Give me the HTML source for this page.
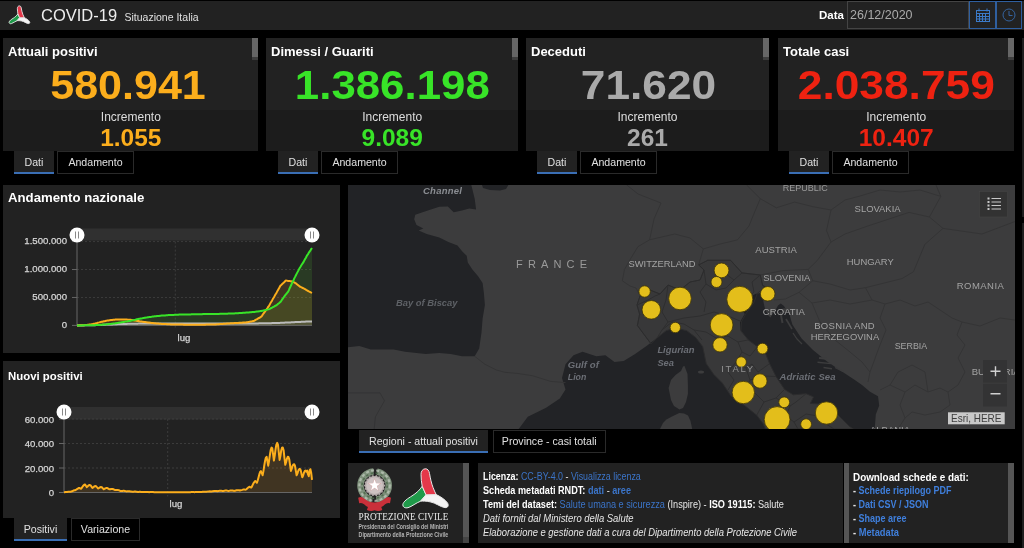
<!DOCTYPE html>
<html lang="it"><head><meta charset="utf-8"><title>COVID-19 Situazione Italia</title>
<style>
html,body{margin:0;padding:0;background:#000;}
body{width:1024px;height:548px;position:relative;overflow:hidden;font-family:"Liberation Sans",sans-serif;color:#e6e6e6;}
div{box-sizing:border-box}
.abs{position:absolute}
#hdr{position:absolute;left:0;top:1px;width:1024px;height:29px;background:#222}
.card{position:absolute;top:38px;height:113px;overflow:hidden}
.ctop{position:absolute;left:0;top:0;right:0;height:72px;background:#222}
.cbot{position:absolute;left:0;top:72px;right:0;height:41px;background:#1c1c1c}
.sbt{position:absolute;top:19px;width:6px;height:3px;background:#3e3e3e}
.sbh{position:absolute;top:0;width:6px;height:19px;background:#666}
.ctitle{position:absolute;left:5px;top:5px;font-weight:bold;font-size:13px;line-height:18px;color:#fff;white-space:nowrap}
.num{position:absolute;top:23px;width:300px;text-align:center;font-weight:bold;font-size:41.5px;line-height:48px;white-space:nowrap}
.incl{position:absolute;top:72px;width:300px;text-align:center;font-size:12px;line-height:14px;color:#ddd}
.inc{position:absolute;top:86px;width:300px;text-align:center;font-weight:bold;font-size:24.5px;line-height:28px}
.tab{position:absolute;height:23px;font-size:10.6px;line-height:21px;text-align:center;color:#e0e0e0;border:1px solid #2a2a2a;background:#000;white-space:nowrap}
.tab.act{background:#222;border:0;border-bottom:2px solid #3a6eb4;line-height:22px}
.panel{position:absolute;background:#222}
.ptitle{position:absolute;left:8px;font-weight:bold;color:#fff;white-space:nowrap}
svg text.ax{font-family:"Liberation Sans",sans-serif;font-size:9.6px;fill:#d6d6d6;stroke:#d6d6d6;stroke-width:0.25px}
a{color:#3b74c8;text-decoration:none}
.info a b,.info[style*=bold] a{color:#3f7fdc}
.info{position:absolute;font-size:10px;line-height:14px;color:#e6e6e6;white-space:nowrap}
.info b{color:#fff}
.info a b{color:inherit}
.ln{transform-origin:0 0;height:14px;white-space:nowrap}
</style></head><body>
<div id="hdr"></div>
<div class="abs" style="left:41px;top:5px;font-size:16.5px;line-height:20px;color:#eee;white-space:nowrap">COVID-19</div>
<div class="abs" style="left:124.5px;top:10px;font-size:10.5px;line-height:14px;color:#e0e0e0;white-space:nowrap">Situazione Italia</div>
<div class="abs" style="left:790px;top:8px;width:54px;text-align:right;font-size:11.5px;line-height:14px;font-weight:bold;color:#fff">Data</div>
<div class="abs" style="left:847px;top:1px;width:122px;height:28px;border:1px solid #444;background:#222;font-size:12.5px;line-height:26px;color:#aaa;padding-left:2px">26/12/2020</div>
<div class="abs" style="left:969px;top:1px;width:27px;height:28px;border:1px solid #2f5f9f;background:#222"></div>
<div class="abs" style="left:996px;top:1px;width:26px;height:28px;border:1px solid #2f5f9f;background:#222"></div>
<svg class="abs" style="left:0;top:0" width="1024" height="30" viewBox="0 0 1024 30">
<!-- calendar icon -->
<g fill="none" stroke="#3b7ac9" stroke-width="1">
<rect x="976.5" y="10.5" width="13" height="11"/>
<path d="M976.5,13.5h13M979.5,13.5v8M982.5,13.5v8M985.5,13.5v8M976.5,16.5h13M976.5,19h13M979,8.5v3M987,8.5v3"/>
<circle cx="1009" cy="15" r="6" stroke="#34639f"/>
<path d="M1009,11v4.500h3.500" stroke="#34639f"/>
</g>
<g transform="translate(8.7,5.7) scale(0.456)" stroke-linejoin="round"><path d="M20.2,17.8 L24,26.4 L18.6,32.8 C14,34.5 10,38 6,39.3 C3,40.2 0.6,38.5 0.8,36.3 C1.2,33 6,30 10,27.5 C14,25 18,21.5 20.2,17.8 Z" fill="#1f9a4a" stroke="#e8e8e8" stroke-width="1.97"/><path d="M24,26.4 L34.2,26.2 C38,28 43,31 45.5,34.5 C47,37 46,39.500 43,39.2 C38,38.500 34,34.500 28,33.4 C24,32.7 21,32.6 18.6,32.8 Z" fill="#f4f4f4" stroke="#e8e8e8" stroke-width="1.97"/><path d="M23.2,0.4 C25.5,0.2 27,2 27.5,5 C28.3,10 29.5,15 31,19 C32,21.5 33,24 34.2,26.2 L24,26.4 L20.2,17.8 C19.5,14 19,10 19,6 C19,3 20.5,0.6 23.2,0.4 Z" fill="#e5384a" stroke="#e8e8e8" stroke-width="1.97"/></g>

</svg>
<div class="card" style="left:3px;width:255px">
<div class="ctop"></div><div class="cbot"></div>
<div class="sbt" style="left:249px"></div><div class="sbh" style="left:249px"></div>
<div class="ctitle">Attuali positivi</div>
<div class="num" style="color:#fcae1c;left:-25.400000000000006px"><span style="display:inline-block;transform:scaleX(1.037)">580.941</span></div>
<div class="incl" style="left:-22.19999999999999px">Incremento</div>
<div class="inc" style="color:#fcae1c;left:-22.19999999999999px">1.055</div>
</div>
<div class="tab act" style="left:14px;top:151px;width:40px">Dati</div>
<div class="tab" style="left:57px;top:151px;width:77px">Andamento</div>
<div class="card" style="left:266px;width:252px">
<div class="ctop"></div><div class="cbot"></div>
<div class="sbt" style="left:246px"></div><div class="sbh" style="left:246px"></div>
<div class="ctitle">Dimessi / Guariti</div>
<div class="num" style="color:#38e428;left:-23.5px"><span style="display:inline-block;transform:scaleX(1.056)">1.386.198</span></div>
<div class="incl" style="left:-23.80000000000001px">Incremento</div>
<div class="inc" style="color:#38e428;left:-23.80000000000001px">9.089</div>
</div>
<div class="tab act" style="left:278px;top:151px;width:40px">Dati</div>
<div class="tab" style="left:321px;top:151px;width:77px">Andamento</div>
<div class="card" style="left:526px;width:243px">
<div class="ctop"></div><div class="cbot"></div>
<div class="sbt" style="left:237px"></div><div class="sbh" style="left:237px"></div>
<div class="ctitle">Deceduti</div>
<div class="num" style="color:#aaaaaa;left:-28px"><span style="display:inline-block;transform:scaleX(1.066)">71.620</span></div>
<div class="incl" style="left:-28.5px">Incremento</div>
<div class="inc" style="color:#aaaaaa;left:-28.5px">261</div>
</div>
<div class="tab act" style="left:537px;top:151px;width:40px">Dati</div>
<div class="tab" style="left:580px;top:151px;width:77px">Andamento</div>
<div class="card" style="left:778px;width:236px">
<div class="ctop"></div><div class="cbot"></div>
<div class="sbt" style="left:230px"></div><div class="sbh" style="left:230px"></div>
<div class="ctitle">Totale casi</div>
<div class="num" style="color:#ee2211;left:-31.299999999999955px"><span style="display:inline-block;transform:scaleX(1.067)">2.038.759</span></div>
<div class="incl" style="left:-31.799999999999955px">Incremento</div>
<div class="inc" style="color:#ee2211;left:-31.799999999999955px">10.407</div>
</div>
<div class="tab act" style="left:789px;top:151px;width:40px">Dati</div>
<div class="tab" style="left:832px;top:151px;width:77px">Andamento</div>

<div class="panel" style="left:3px;top:185px;width:337px;height:168px"></div>
<div class="ptitle" style="top:189px;font-size:13.2px;line-height:18px">Andamento nazionale</div>
<div class="panel" style="left:3px;top:361px;width:337px;height:157px"></div>
<div class="ptitle" style="top:368px;font-size:11.4px;line-height:16px">Nuovi positivi</div>
<svg class="abs" style="left:0;top:0" width="345" height="548" viewBox="0 0 345 548">
<rect x="77" y="228.5" width="235" height="12" fill="#303030"/>
<line x1="77" y1="297.46666666666664" x2="312" y2="297.46666666666664" stroke="#3c3c3c" stroke-width="1" stroke-dasharray="2,2"/>
<line x1="77" y1="269.5333333333333" x2="312" y2="269.5333333333333" stroke="#3c3c3c" stroke-width="1" stroke-dasharray="2,2"/>
<line x1="77" y1="241.6" x2="312" y2="241.6" stroke="#3c3c3c" stroke-width="1" stroke-dasharray="2,2"/>
<line x1="175.3" y1="241.6" x2="175.3" y2="329.4" stroke="#3c3c3c" stroke-width="1" stroke-dasharray="2,2"/>
<path d="M77.0,325.4 L77.8,325.4 L78.5,325.4 L79.3,325.4 L80.1,325.4 L80.8,325.4 L81.6,325.4 L82.4,325.4 L83.1,325.3 L83.9,325.3 L84.7,325.3 L85.4,325.3 L86.2,325.3 L87.0,325.3 L87.8,325.3 L88.5,325.3 L89.3,325.3 L90.1,325.3 L90.8,325.3 L91.6,325.3 L92.4,325.3 L93.1,325.2 L93.9,325.2 L94.7,325.2 L95.4,325.1 L96.2,325.1 L97.0,325.0 L97.7,325.0 L98.5,325.0 L99.3,324.9 L100.0,324.9 L100.8,324.8 L101.6,324.7 L102.3,324.7 L103.1,324.6 L103.9,324.6 L104.6,324.5 L105.4,324.4 L106.2,324.4 L107.0,324.3 L107.7,324.2 L108.5,324.1 L109.3,324.0 L110.0,324.0 L110.8,323.9 L111.6,323.8 L112.3,323.7 L113.1,323.6 L113.9,323.5 L114.6,323.4 L115.4,323.3 L116.2,323.2 L116.9,323.1 L117.7,322.9 L118.5,322.8 L119.2,322.7 L120.0,322.5 L120.8,322.4 L121.5,322.3 L122.3,322.2 L123.1,322.0 L123.8,321.9 L124.6,321.8 L125.4,321.6 L126.2,321.5 L126.9,321.4 L127.7,321.3 L128.5,321.1 L129.2,321.0 L130.0,320.9 L130.8,320.8 L131.5,320.6 L132.3,320.4 L133.1,320.2 L133.8,320.0 L134.6,319.9 L135.4,319.7 L136.1,319.5 L136.9,319.3 L137.7,319.1 L138.4,319.0 L139.2,318.8 L140.0,318.7 L140.7,318.5 L141.5,318.4 L142.3,318.3 L143.0,318.1 L143.8,318.0 L144.6,317.8 L145.3,317.7 L146.1,317.6 L146.9,317.4 L147.7,317.3 L148.4,317.2 L149.2,317.1 L150.0,317.0 L150.7,316.9 L151.5,316.8 L152.3,316.6 L153.0,316.5 L153.8,316.4 L154.6,316.3 L155.3,316.3 L156.1,316.2 L156.9,316.1 L157.6,316.0 L158.4,315.9 L159.2,315.9 L159.9,315.8 L160.7,315.7 L161.5,315.6 L162.2,315.6 L163.0,315.5 L163.8,315.5 L164.5,315.4 L165.3,315.4 L166.1,315.3 L166.9,315.3 L167.6,315.2 L168.4,315.1 L169.2,315.1 L169.9,315.0 L170.7,315.0 L171.5,315.0 L172.2,314.9 L173.0,314.9 L173.8,314.9 L174.5,314.8 L175.3,314.8 L176.1,314.7 L176.8,314.7 L177.6,314.7 L178.4,314.7 L179.1,314.6 L179.9,314.6 L180.7,314.6 L181.4,314.6 L182.2,314.5 L183.0,314.5 L183.7,314.5 L184.5,314.5 L185.3,314.5 L186.1,314.5 L186.8,314.4 L187.6,314.4 L188.4,314.4 L189.1,314.4 L189.9,314.4 L190.7,314.4 L191.4,314.3 L192.2,314.3 L193.0,314.3 L193.7,314.3 L194.5,314.3 L195.3,314.3 L196.0,314.3 L196.8,314.2 L197.6,314.2 L198.3,314.2 L199.1,314.2 L199.9,314.2 L200.6,314.2 L201.4,314.2 L202.2,314.2 L202.9,314.1 L203.7,314.1 L204.5,314.1 L205.3,314.1 L206.0,314.1 L206.8,314.1 L207.6,314.1 L208.3,314.1 L209.1,314.0 L209.9,314.0 L210.6,314.0 L211.4,314.0 L212.2,314.0 L212.9,314.0 L213.7,314.0 L214.5,313.9 L215.2,313.9 L216.0,313.9 L216.8,313.9 L217.5,313.9 L218.3,313.9 L219.1,313.9 L219.8,313.8 L220.6,313.8 L221.4,313.8 L222.1,313.8 L222.9,313.8 L223.7,313.8 L224.5,313.7 L225.2,313.7 L226.0,313.7 L226.8,313.7 L227.5,313.7 L228.3,313.6 L229.1,313.6 L229.8,313.6 L230.6,313.6 L231.4,313.5 L232.1,313.5 L232.9,313.4 L233.7,313.4 L234.4,313.4 L235.2,313.3 L236.0,313.3 L236.7,313.3 L237.5,313.2 L238.3,313.2 L239.0,313.1 L239.8,313.1 L240.6,313.0 L241.3,313.0 L242.1,312.9 L242.9,312.8 L243.7,312.8 L244.4,312.7 L245.2,312.7 L246.0,312.6 L246.7,312.6 L247.5,312.5 L248.3,312.4 L249.0,312.4 L249.8,312.3 L250.6,312.3 L251.3,312.2 L252.1,312.1 L252.9,312.1 L253.6,312.0 L254.4,311.9 L255.2,311.8 L255.9,311.7 L256.7,311.6 L257.5,311.5 L258.2,311.4 L259.0,311.3 L259.8,311.2 L260.5,311.1 L261.3,311.0 L262.1,310.8 L262.8,310.7 L263.6,310.5 L264.4,310.3 L265.2,310.1 L265.9,309.9 L266.7,309.8 L267.5,309.6 L268.2,309.4 L269.0,309.2 L269.8,308.8 L270.5,308.4 L271.3,308.0 L272.1,307.6 L272.8,307.2 L273.6,306.8 L274.4,306.4 L275.1,305.9 L275.9,305.5 L276.7,305.1 L277.4,304.5 L278.2,303.8 L279.0,303.2 L279.7,302.5 L280.5,301.9 L281.3,300.8 L282.0,299.7 L282.8,298.6 L283.6,297.5 L284.4,296.3 L285.1,295.4 L285.9,294.4 L286.7,293.5 L287.4,292.5 L288.2,291.6 L289.0,289.9 L289.7,288.2 L290.5,286.5 L291.3,284.8 L292.0,283.1 L292.8,281.5 L293.6,280.0 L294.3,278.4 L295.1,276.9 L295.9,275.3 L296.6,273.9 L297.4,272.4 L298.2,270.9 L298.9,269.4 L299.7,268.0 L300.5,266.7 L301.2,265.5 L302.0,264.3 L302.8,263.1 L303.6,261.9 L304.3,260.5 L305.1,259.1 L305.9,257.7 L306.6,256.3 L307.4,254.9 L308.2,253.8 L308.9,252.6 L309.7,251.4 L310.5,250.3 L311.2,249.1 L312.0,248.0 L312.0,325.4 L77.0,325.4 Z" fill="#55cc33" fill-opacity="0.14"/>
<path d="M77.0,325.4 L77.8,325.4 L78.5,325.4 L79.3,325.3 L80.1,325.3 L80.8,325.3 L81.6,325.3 L82.4,325.3 L83.1,325.3 L83.9,325.2 L84.7,325.2 L85.4,325.1 L86.2,325.0 L87.0,324.9 L87.8,324.8 L88.5,324.7 L89.3,324.6 L90.1,324.5 L90.8,324.4 L91.6,324.3 L92.4,324.2 L93.1,324.0 L93.9,323.8 L94.7,323.6 L95.4,323.4 L96.2,323.2 L97.0,323.0 L97.7,322.8 L98.5,322.6 L99.3,322.4 L100.0,322.2 L100.8,322.0 L101.6,321.8 L102.3,321.7 L103.1,321.5 L103.9,321.3 L104.6,321.2 L105.4,321.0 L106.2,320.8 L107.0,320.6 L107.7,320.5 L108.5,320.4 L109.3,320.3 L110.0,320.2 L110.8,320.1 L111.6,320.0 L112.3,319.9 L113.1,319.8 L113.9,319.8 L114.6,319.7 L115.4,319.6 L116.2,319.5 L116.9,319.5 L117.7,319.4 L118.5,319.4 L119.2,319.4 L120.0,319.4 L120.8,319.4 L121.5,319.4 L122.3,319.4 L123.1,319.4 L123.8,319.5 L124.6,319.5 L125.4,319.6 L126.2,319.6 L126.9,319.6 L127.7,319.7 L128.5,319.7 L129.2,319.7 L130.0,319.8 L130.8,319.8 L131.5,319.9 L132.3,320.1 L133.1,320.2 L133.8,320.3 L134.6,320.5 L135.4,320.6 L136.1,320.7 L136.9,320.9 L137.7,321.0 L138.4,321.1 L139.2,321.2 L140.0,321.4 L140.7,321.5 L141.5,321.6 L142.3,321.7 L143.0,321.8 L143.8,321.9 L144.6,322.0 L145.3,322.1 L146.1,322.2 L146.9,322.3 L147.7,322.4 L148.4,322.5 L149.2,322.6 L150.0,322.7 L150.7,322.8 L151.5,322.9 L152.3,323.0 L153.0,323.1 L153.8,323.2 L154.6,323.3 L155.3,323.3 L156.1,323.4 L156.9,323.5 L157.6,323.5 L158.4,323.6 L159.2,323.7 L159.9,323.7 L160.7,323.8 L161.5,323.9 L162.2,323.9 L163.0,324.0 L163.8,324.0 L164.5,324.0 L165.3,324.1 L166.1,324.1 L166.9,324.2 L167.6,324.2 L168.4,324.3 L169.2,324.3 L169.9,324.3 L170.7,324.4 L171.5,324.4 L172.2,324.4 L173.0,324.4 L173.8,324.5 L174.5,324.5 L175.3,324.5 L176.1,324.5 L176.8,324.6 L177.6,324.6 L178.4,324.6 L179.1,324.6 L179.9,324.6 L180.7,324.6 L181.4,324.6 L182.2,324.6 L183.0,324.6 L183.7,324.7 L184.5,324.7 L185.3,324.7 L186.1,324.7 L186.8,324.7 L187.6,324.7 L188.4,324.7 L189.1,324.7 L189.9,324.7 L190.7,324.7 L191.4,324.7 L192.2,324.7 L193.0,324.7 L193.7,324.7 L194.5,324.7 L195.3,324.7 L196.0,324.7 L196.8,324.7 L197.6,324.7 L198.3,324.7 L199.1,324.7 L199.9,324.7 L200.6,324.7 L201.4,324.7 L202.2,324.7 L202.9,324.7 L203.7,324.7 L204.5,324.7 L205.3,324.7 L206.0,324.6 L206.8,324.6 L207.6,324.6 L208.3,324.6 L209.1,324.6 L209.9,324.6 L210.6,324.5 L211.4,324.5 L212.2,324.5 L212.9,324.5 L213.7,324.5 L214.5,324.4 L215.2,324.4 L216.0,324.4 L216.8,324.3 L217.5,324.3 L218.3,324.2 L219.1,324.2 L219.8,324.1 L220.6,324.1 L221.4,324.0 L222.1,324.0 L222.9,323.9 L223.7,323.8 L224.5,323.8 L225.2,323.7 L226.0,323.7 L226.8,323.6 L227.5,323.6 L228.3,323.5 L229.1,323.5 L229.8,323.4 L230.6,323.3 L231.4,323.3 L232.1,323.3 L232.9,323.2 L233.7,323.2 L234.4,323.1 L235.2,323.1 L236.0,323.0 L236.7,323.0 L237.5,322.9 L238.3,322.9 L239.0,322.8 L239.8,322.8 L240.6,322.8 L241.3,322.7 L242.1,322.7 L242.9,322.6 L243.7,322.6 L244.4,322.5 L245.2,322.5 L246.0,322.5 L246.7,322.3 L247.5,322.2 L248.3,322.0 L249.0,321.9 L249.8,321.7 L250.6,321.6 L251.3,321.4 L252.1,321.3 L252.9,321.1 L253.6,321.0 L254.4,320.6 L255.2,320.1 L255.9,319.7 L256.7,319.3 L257.5,318.8 L258.2,318.4 L259.0,318.0 L259.8,317.6 L260.5,317.1 L261.3,316.7 L262.1,315.6 L262.8,314.5 L263.6,313.4 L264.4,312.3 L265.2,311.2 L265.9,310.1 L266.7,309.1 L267.5,308.0 L268.2,306.9 L269.0,305.8 L269.8,304.4 L270.5,303.1 L271.3,301.8 L272.1,300.4 L272.8,299.1 L273.6,297.8 L274.4,296.4 L275.1,295.1 L275.9,293.8 L276.7,292.4 L277.4,291.1 L278.2,289.7 L279.0,288.3 L279.7,287.0 L280.5,285.6 L281.3,284.9 L282.0,284.2 L282.8,283.4 L283.6,282.7 L284.4,282.0 L285.1,281.2 L285.9,280.4 L286.7,280.6 L287.4,280.8 L288.2,281.0 L289.0,281.1 L289.7,281.1 L290.5,281.2 L291.3,281.3 L292.0,281.4 L292.8,281.7 L293.6,282.1 L294.3,282.5 L295.1,282.9 L295.9,283.3 L296.6,283.9 L297.4,284.6 L298.2,285.2 L298.9,285.8 L299.7,286.5 L300.5,286.9 L301.2,287.2 L302.0,287.6 L302.8,288.0 L303.6,288.3 L304.3,288.8 L305.1,289.2 L305.9,289.7 L306.6,290.2 L307.4,290.6 L308.2,291.0 L308.9,291.4 L309.7,291.8 L310.5,292.2 L311.2,292.6 L312.0,292.9 L312.0,325.4 L77.0,325.4 Z" fill="#f5a623" fill-opacity="0.14"/>
<path d="M77.0,325.4 L77.8,325.4 L78.5,325.4 L79.3,325.4 L80.1,325.4 L80.8,325.4 L81.6,325.4 L82.4,325.4 L83.1,325.4 L83.9,325.4 L84.7,325.3 L85.4,325.3 L86.2,325.3 L87.0,325.3 L87.8,325.3 L88.5,325.3 L89.3,325.3 L90.1,325.3 L90.8,325.3 L91.6,325.3 L92.4,325.3 L93.1,325.3 L93.9,325.2 L94.7,325.2 L95.4,325.2 L96.2,325.1 L97.0,325.1 L97.7,325.1 L98.5,325.0 L99.3,325.0 L100.0,325.0 L100.8,324.9 L101.6,324.9 L102.3,324.8 L103.1,324.8 L103.9,324.8 L104.6,324.7 L105.4,324.7 L106.2,324.6 L107.0,324.6 L107.7,324.5 L108.5,324.5 L109.3,324.5 L110.0,324.4 L110.8,324.4 L111.6,324.4 L112.3,324.4 L113.1,324.3 L113.9,324.3 L114.6,324.3 L115.4,324.2 L116.2,324.2 L116.9,324.2 L117.7,324.1 L118.5,324.1 L119.2,324.1 L120.0,324.1 L120.8,324.0 L121.5,324.0 L122.3,324.0 L123.1,323.9 L123.8,323.9 L124.6,323.9 L125.4,323.9 L126.2,323.9 L126.9,323.9 L127.7,323.8 L128.5,323.8 L129.2,323.8 L130.0,323.8 L130.8,323.8 L131.5,323.8 L132.3,323.7 L133.1,323.7 L133.8,323.7 L134.6,323.7 L135.4,323.7 L136.1,323.7 L136.9,323.7 L137.7,323.7 L138.4,323.6 L139.2,323.6 L140.0,323.6 L140.7,323.6 L141.5,323.6 L142.3,323.6 L143.0,323.6 L143.8,323.6 L144.6,323.6 L145.3,323.6 L146.1,323.6 L146.9,323.6 L147.7,323.6 L148.4,323.6 L149.2,323.6 L150.0,323.5 L150.7,323.5 L151.5,323.5 L152.3,323.5 L153.0,323.5 L153.8,323.5 L154.6,323.5 L155.3,323.5 L156.1,323.5 L156.9,323.5 L157.6,323.5 L158.4,323.5 L159.2,323.5 L159.9,323.5 L160.7,323.5 L161.5,323.5 L162.2,323.5 L163.0,323.5 L163.8,323.5 L164.5,323.5 L165.3,323.5 L166.1,323.5 L166.9,323.5 L167.6,323.5 L168.4,323.5 L169.2,323.5 L169.9,323.5 L170.7,323.5 L171.5,323.5 L172.2,323.5 L173.0,323.5 L173.8,323.5 L174.5,323.5 L175.3,323.5 L176.1,323.5 L176.8,323.5 L177.6,323.5 L178.4,323.5 L179.1,323.5 L179.9,323.5 L180.7,323.5 L181.4,323.5 L182.2,323.4 L183.0,323.4 L183.7,323.4 L184.5,323.4 L185.3,323.4 L186.1,323.4 L186.8,323.4 L187.6,323.4 L188.4,323.4 L189.1,323.4 L189.9,323.4 L190.7,323.4 L191.4,323.4 L192.2,323.4 L193.0,323.4 L193.7,323.4 L194.5,323.4 L195.3,323.4 L196.0,323.4 L196.8,323.4 L197.6,323.4 L198.3,323.4 L199.1,323.4 L199.9,323.4 L200.6,323.4 L201.4,323.4 L202.2,323.4 L202.9,323.4 L203.7,323.4 L204.5,323.4 L205.3,323.4 L206.0,323.4 L206.8,323.4 L207.6,323.4 L208.3,323.4 L209.1,323.4 L209.9,323.4 L210.6,323.4 L211.4,323.4 L212.2,323.4 L212.9,323.4 L213.7,323.4 L214.5,323.4 L215.2,323.4 L216.0,323.4 L216.8,323.4 L217.5,323.4 L218.3,323.4 L219.1,323.4 L219.8,323.4 L220.6,323.4 L221.4,323.4 L222.1,323.4 L222.9,323.4 L223.7,323.4 L224.5,323.4 L225.2,323.4 L226.0,323.4 L226.8,323.4 L227.5,323.4 L228.3,323.4 L229.1,323.4 L229.8,323.4 L230.6,323.4 L231.4,323.4 L232.1,323.4 L232.9,323.4 L233.7,323.4 L234.4,323.4 L235.2,323.4 L236.0,323.4 L236.7,323.4 L237.5,323.4 L238.3,323.4 L239.0,323.4 L239.8,323.4 L240.6,323.4 L241.3,323.4 L242.1,323.4 L242.9,323.4 L243.7,323.4 L244.4,323.4 L245.2,323.4 L246.0,323.4 L246.7,323.4 L247.5,323.4 L248.3,323.4 L249.0,323.4 L249.8,323.4 L250.6,323.4 L251.3,323.4 L252.1,323.4 L252.9,323.4 L253.6,323.4 L254.4,323.4 L255.2,323.4 L255.9,323.4 L256.7,323.4 L257.5,323.4 L258.2,323.4 L259.0,323.3 L259.8,323.3 L260.5,323.3 L261.3,323.3 L262.1,323.3 L262.8,323.3 L263.6,323.3 L264.4,323.3 L265.2,323.3 L265.9,323.3 L266.7,323.3 L267.5,323.3 L268.2,323.3 L269.0,323.2 L269.8,323.2 L270.5,323.2 L271.3,323.2 L272.1,323.1 L272.8,323.1 L273.6,323.1 L274.4,323.1 L275.1,323.0 L275.9,323.0 L276.7,323.0 L277.4,323.0 L278.2,322.9 L279.0,322.9 L279.7,322.9 L280.5,322.8 L281.3,322.8 L282.0,322.8 L282.8,322.7 L283.6,322.7 L284.4,322.7 L285.1,322.6 L285.9,322.6 L286.7,322.6 L287.4,322.5 L288.2,322.5 L289.0,322.5 L289.7,322.4 L290.5,322.4 L291.3,322.3 L292.0,322.3 L292.8,322.3 L293.6,322.2 L294.3,322.2 L295.1,322.1 L295.9,322.1 L296.6,322.1 L297.4,322.0 L298.2,322.0 L298.9,321.9 L299.7,321.9 L300.5,321.9 L301.2,321.8 L302.0,321.8 L302.8,321.8 L303.6,321.7 L304.3,321.7 L305.1,321.7 L305.9,321.6 L306.6,321.6 L307.4,321.6 L308.2,321.5 L308.9,321.5 L309.7,321.5 L310.5,321.5 L311.2,321.4 L312.0,321.4 L312.0,325.4 L77.0,325.4 Z" fill="#aaaaaa" fill-opacity="0.16"/>
<line x1="77" y1="241.6" x2="77" y2="325.4" stroke="#666" stroke-width="1"/>
<line x1="77" y1="325.4" x2="312" y2="325.4" stroke="#666" stroke-width="1"/>
<path d="M77.0,325.4 L77.8,325.4 L78.5,325.4 L79.3,325.4 L80.1,325.4 L80.8,325.4 L81.6,325.4 L82.4,325.4 L83.1,325.4 L83.9,325.4 L84.7,325.3 L85.4,325.3 L86.2,325.3 L87.0,325.3 L87.8,325.3 L88.5,325.3 L89.3,325.3 L90.1,325.3 L90.8,325.3 L91.6,325.3 L92.4,325.3 L93.1,325.3 L93.9,325.2 L94.7,325.2 L95.4,325.2 L96.2,325.1 L97.0,325.1 L97.7,325.1 L98.5,325.0 L99.3,325.0 L100.0,325.0 L100.8,324.9 L101.6,324.9 L102.3,324.8 L103.1,324.8 L103.9,324.8 L104.6,324.7 L105.4,324.7 L106.2,324.6 L107.0,324.6 L107.7,324.5 L108.5,324.5 L109.3,324.5 L110.0,324.4 L110.8,324.4 L111.6,324.4 L112.3,324.4 L113.1,324.3 L113.9,324.3 L114.6,324.3 L115.4,324.2 L116.2,324.2 L116.9,324.2 L117.7,324.1 L118.5,324.1 L119.2,324.1 L120.0,324.1 L120.8,324.0 L121.5,324.0 L122.3,324.0 L123.1,323.9 L123.8,323.9 L124.6,323.9 L125.4,323.9 L126.2,323.9 L126.9,323.9 L127.7,323.8 L128.5,323.8 L129.2,323.8 L130.0,323.8 L130.8,323.8 L131.5,323.8 L132.3,323.7 L133.1,323.7 L133.8,323.7 L134.6,323.7 L135.4,323.7 L136.1,323.7 L136.9,323.7 L137.7,323.7 L138.4,323.6 L139.2,323.6 L140.0,323.6 L140.7,323.6 L141.5,323.6 L142.3,323.6 L143.0,323.6 L143.8,323.6 L144.6,323.6 L145.3,323.6 L146.1,323.6 L146.9,323.6 L147.7,323.6 L148.4,323.6 L149.2,323.6 L150.0,323.5 L150.7,323.5 L151.5,323.5 L152.3,323.5 L153.0,323.5 L153.8,323.5 L154.6,323.5 L155.3,323.5 L156.1,323.5 L156.9,323.5 L157.6,323.5 L158.4,323.5 L159.2,323.5 L159.9,323.5 L160.7,323.5 L161.5,323.5 L162.2,323.5 L163.0,323.5 L163.8,323.5 L164.5,323.5 L165.3,323.5 L166.1,323.5 L166.9,323.5 L167.6,323.5 L168.4,323.5 L169.2,323.5 L169.9,323.5 L170.7,323.5 L171.5,323.5 L172.2,323.5 L173.0,323.5 L173.8,323.5 L174.5,323.5 L175.3,323.5 L176.1,323.5 L176.8,323.5 L177.6,323.5 L178.4,323.5 L179.1,323.5 L179.9,323.5 L180.7,323.5 L181.4,323.5 L182.2,323.4 L183.0,323.4 L183.7,323.4 L184.5,323.4 L185.3,323.4 L186.1,323.4 L186.8,323.4 L187.6,323.4 L188.4,323.4 L189.1,323.4 L189.9,323.4 L190.7,323.4 L191.4,323.4 L192.2,323.4 L193.0,323.4 L193.7,323.4 L194.5,323.4 L195.3,323.4 L196.0,323.4 L196.8,323.4 L197.6,323.4 L198.3,323.4 L199.1,323.4 L199.9,323.4 L200.6,323.4 L201.4,323.4 L202.2,323.4 L202.9,323.4 L203.7,323.4 L204.5,323.4 L205.3,323.4 L206.0,323.4 L206.8,323.4 L207.6,323.4 L208.3,323.4 L209.1,323.4 L209.9,323.4 L210.6,323.4 L211.4,323.4 L212.2,323.4 L212.9,323.4 L213.7,323.4 L214.5,323.4 L215.2,323.4 L216.0,323.4 L216.8,323.4 L217.5,323.4 L218.3,323.4 L219.1,323.4 L219.8,323.4 L220.6,323.4 L221.4,323.4 L222.1,323.4 L222.9,323.4 L223.7,323.4 L224.5,323.4 L225.2,323.4 L226.0,323.4 L226.8,323.4 L227.5,323.4 L228.3,323.4 L229.1,323.4 L229.8,323.4 L230.6,323.4 L231.4,323.4 L232.1,323.4 L232.9,323.4 L233.7,323.4 L234.4,323.4 L235.2,323.4 L236.0,323.4 L236.7,323.4 L237.5,323.4 L238.3,323.4 L239.0,323.4 L239.8,323.4 L240.6,323.4 L241.3,323.4 L242.1,323.4 L242.9,323.4 L243.7,323.4 L244.4,323.4 L245.2,323.4 L246.0,323.4 L246.7,323.4 L247.5,323.4 L248.3,323.4 L249.0,323.4 L249.8,323.4 L250.6,323.4 L251.3,323.4 L252.1,323.4 L252.9,323.4 L253.6,323.4 L254.4,323.4 L255.2,323.4 L255.9,323.4 L256.7,323.4 L257.5,323.4 L258.2,323.4 L259.0,323.3 L259.8,323.3 L260.5,323.3 L261.3,323.3 L262.1,323.3 L262.8,323.3 L263.6,323.3 L264.4,323.3 L265.2,323.3 L265.9,323.3 L266.7,323.3 L267.5,323.3 L268.2,323.3 L269.0,323.2 L269.8,323.2 L270.5,323.2 L271.3,323.2 L272.1,323.1 L272.8,323.1 L273.6,323.1 L274.4,323.1 L275.1,323.0 L275.9,323.0 L276.7,323.0 L277.4,323.0 L278.2,322.9 L279.0,322.9 L279.7,322.9 L280.5,322.8 L281.3,322.8 L282.0,322.8 L282.8,322.7 L283.6,322.7 L284.4,322.7 L285.1,322.6 L285.9,322.6 L286.7,322.6 L287.4,322.5 L288.2,322.5 L289.0,322.5 L289.7,322.4 L290.5,322.4 L291.3,322.3 L292.0,322.3 L292.8,322.3 L293.6,322.2 L294.3,322.2 L295.1,322.1 L295.9,322.1 L296.6,322.1 L297.4,322.0 L298.2,322.0 L298.9,321.9 L299.7,321.9 L300.5,321.9 L301.2,321.8 L302.0,321.8 L302.8,321.8 L303.6,321.7 L304.3,321.7 L305.1,321.7 L305.9,321.6 L306.6,321.6 L307.4,321.6 L308.2,321.5 L308.9,321.5 L309.7,321.5 L310.5,321.5 L311.2,321.4 L312.0,321.4" fill="none" stroke="#bbbbbb" stroke-width="2" stroke-linejoin="round"/>
<path d="M77.0,325.4 L77.8,325.4 L78.5,325.4 L79.3,325.3 L80.1,325.3 L80.8,325.3 L81.6,325.3 L82.4,325.3 L83.1,325.3 L83.9,325.2 L84.7,325.2 L85.4,325.1 L86.2,325.0 L87.0,324.9 L87.8,324.8 L88.5,324.7 L89.3,324.6 L90.1,324.5 L90.8,324.4 L91.6,324.3 L92.4,324.2 L93.1,324.0 L93.9,323.8 L94.7,323.6 L95.4,323.4 L96.2,323.2 L97.0,323.0 L97.7,322.8 L98.5,322.6 L99.3,322.4 L100.0,322.2 L100.8,322.0 L101.6,321.8 L102.3,321.7 L103.1,321.5 L103.9,321.3 L104.6,321.2 L105.4,321.0 L106.2,320.8 L107.0,320.6 L107.7,320.5 L108.5,320.4 L109.3,320.3 L110.0,320.2 L110.8,320.1 L111.6,320.0 L112.3,319.9 L113.1,319.8 L113.9,319.8 L114.6,319.7 L115.4,319.6 L116.2,319.5 L116.9,319.5 L117.7,319.4 L118.5,319.4 L119.2,319.4 L120.0,319.4 L120.8,319.4 L121.5,319.4 L122.3,319.4 L123.1,319.4 L123.8,319.5 L124.6,319.5 L125.4,319.6 L126.2,319.6 L126.9,319.6 L127.7,319.7 L128.5,319.7 L129.2,319.7 L130.0,319.8 L130.8,319.8 L131.5,319.9 L132.3,320.1 L133.1,320.2 L133.8,320.3 L134.6,320.5 L135.4,320.6 L136.1,320.7 L136.9,320.9 L137.7,321.0 L138.4,321.1 L139.2,321.2 L140.0,321.4 L140.7,321.5 L141.5,321.6 L142.3,321.7 L143.0,321.8 L143.8,321.9 L144.6,322.0 L145.3,322.1 L146.1,322.2 L146.9,322.3 L147.7,322.4 L148.4,322.5 L149.2,322.6 L150.0,322.7 L150.7,322.8 L151.5,322.9 L152.3,323.0 L153.0,323.1 L153.8,323.2 L154.6,323.3 L155.3,323.3 L156.1,323.4 L156.9,323.5 L157.6,323.5 L158.4,323.6 L159.2,323.7 L159.9,323.7 L160.7,323.8 L161.5,323.9 L162.2,323.9 L163.0,324.0 L163.8,324.0 L164.5,324.0 L165.3,324.1 L166.1,324.1 L166.9,324.2 L167.6,324.2 L168.4,324.3 L169.2,324.3 L169.9,324.3 L170.7,324.4 L171.5,324.4 L172.2,324.4 L173.0,324.4 L173.8,324.5 L174.5,324.5 L175.3,324.5 L176.1,324.5 L176.8,324.6 L177.6,324.6 L178.4,324.6 L179.1,324.6 L179.9,324.6 L180.7,324.6 L181.4,324.6 L182.2,324.6 L183.0,324.6 L183.7,324.7 L184.5,324.7 L185.3,324.7 L186.1,324.7 L186.8,324.7 L187.6,324.7 L188.4,324.7 L189.1,324.7 L189.9,324.7 L190.7,324.7 L191.4,324.7 L192.2,324.7 L193.0,324.7 L193.7,324.7 L194.5,324.7 L195.3,324.7 L196.0,324.7 L196.8,324.7 L197.6,324.7 L198.3,324.7 L199.1,324.7 L199.9,324.7 L200.6,324.7 L201.4,324.7 L202.2,324.7 L202.9,324.7 L203.7,324.7 L204.5,324.7 L205.3,324.7 L206.0,324.6 L206.8,324.6 L207.6,324.6 L208.3,324.6 L209.1,324.6 L209.9,324.6 L210.6,324.5 L211.4,324.5 L212.2,324.5 L212.9,324.5 L213.7,324.5 L214.5,324.4 L215.2,324.4 L216.0,324.4 L216.8,324.3 L217.5,324.3 L218.3,324.2 L219.1,324.2 L219.8,324.1 L220.6,324.1 L221.4,324.0 L222.1,324.0 L222.9,323.9 L223.7,323.8 L224.5,323.8 L225.2,323.7 L226.0,323.7 L226.8,323.6 L227.5,323.6 L228.3,323.5 L229.1,323.5 L229.8,323.4 L230.6,323.3 L231.4,323.3 L232.1,323.3 L232.9,323.2 L233.7,323.2 L234.4,323.1 L235.2,323.1 L236.0,323.0 L236.7,323.0 L237.5,322.9 L238.3,322.9 L239.0,322.8 L239.8,322.8 L240.6,322.8 L241.3,322.7 L242.1,322.7 L242.9,322.6 L243.7,322.6 L244.4,322.5 L245.2,322.5 L246.0,322.5 L246.7,322.3 L247.5,322.2 L248.3,322.0 L249.0,321.9 L249.8,321.7 L250.6,321.6 L251.3,321.4 L252.1,321.3 L252.9,321.1 L253.6,321.0 L254.4,320.6 L255.2,320.1 L255.9,319.7 L256.7,319.3 L257.5,318.8 L258.2,318.4 L259.0,318.0 L259.8,317.6 L260.5,317.1 L261.3,316.7 L262.1,315.6 L262.8,314.5 L263.6,313.4 L264.4,312.3 L265.2,311.2 L265.9,310.1 L266.7,309.1 L267.5,308.0 L268.2,306.9 L269.0,305.8 L269.8,304.4 L270.5,303.1 L271.3,301.8 L272.1,300.4 L272.8,299.1 L273.6,297.8 L274.4,296.4 L275.1,295.1 L275.9,293.8 L276.7,292.4 L277.4,291.1 L278.2,289.7 L279.0,288.3 L279.7,287.0 L280.5,285.6 L281.3,284.9 L282.0,284.2 L282.8,283.4 L283.6,282.7 L284.4,282.0 L285.1,281.2 L285.9,280.4 L286.7,280.6 L287.4,280.8 L288.2,281.0 L289.0,281.1 L289.7,281.1 L290.5,281.2 L291.3,281.3 L292.0,281.4 L292.8,281.7 L293.6,282.1 L294.3,282.5 L295.1,282.9 L295.9,283.3 L296.6,283.9 L297.4,284.6 L298.2,285.2 L298.9,285.8 L299.7,286.5 L300.5,286.9 L301.2,287.2 L302.0,287.6 L302.8,288.0 L303.6,288.3 L304.3,288.8 L305.1,289.2 L305.9,289.7 L306.6,290.2 L307.4,290.6 L308.2,291.0 L308.9,291.4 L309.7,291.8 L310.5,292.2 L311.2,292.6 L312.0,292.9" fill="none" stroke="#fcae1c" stroke-width="2" stroke-linejoin="round"/>
<path d="M77.0,325.4 L77.8,325.4 L78.5,325.4 L79.3,325.4 L80.1,325.4 L80.8,325.4 L81.6,325.4 L82.4,325.4 L83.1,325.3 L83.9,325.3 L84.7,325.3 L85.4,325.3 L86.2,325.3 L87.0,325.3 L87.8,325.3 L88.5,325.3 L89.3,325.3 L90.1,325.3 L90.8,325.3 L91.6,325.3 L92.4,325.3 L93.1,325.2 L93.9,325.2 L94.7,325.2 L95.4,325.1 L96.2,325.1 L97.0,325.0 L97.7,325.0 L98.5,325.0 L99.3,324.9 L100.0,324.9 L100.8,324.8 L101.6,324.7 L102.3,324.7 L103.1,324.6 L103.9,324.6 L104.6,324.5 L105.4,324.4 L106.2,324.4 L107.0,324.3 L107.7,324.2 L108.5,324.1 L109.3,324.0 L110.0,324.0 L110.8,323.9 L111.6,323.8 L112.3,323.7 L113.1,323.6 L113.9,323.5 L114.6,323.4 L115.4,323.3 L116.2,323.2 L116.9,323.1 L117.7,322.9 L118.5,322.8 L119.2,322.7 L120.0,322.5 L120.8,322.4 L121.5,322.3 L122.3,322.2 L123.1,322.0 L123.8,321.9 L124.6,321.8 L125.4,321.6 L126.2,321.5 L126.9,321.4 L127.7,321.3 L128.5,321.1 L129.2,321.0 L130.0,320.9 L130.8,320.8 L131.5,320.6 L132.3,320.4 L133.1,320.2 L133.8,320.0 L134.6,319.9 L135.4,319.7 L136.1,319.5 L136.9,319.3 L137.7,319.1 L138.4,319.0 L139.2,318.8 L140.0,318.7 L140.7,318.5 L141.5,318.4 L142.3,318.3 L143.0,318.1 L143.8,318.0 L144.6,317.8 L145.3,317.7 L146.1,317.6 L146.9,317.4 L147.7,317.3 L148.4,317.2 L149.2,317.1 L150.0,317.0 L150.7,316.9 L151.5,316.8 L152.3,316.6 L153.0,316.5 L153.8,316.4 L154.6,316.3 L155.3,316.3 L156.1,316.2 L156.9,316.1 L157.6,316.0 L158.4,315.9 L159.2,315.9 L159.9,315.8 L160.7,315.7 L161.5,315.6 L162.2,315.6 L163.0,315.5 L163.8,315.5 L164.5,315.4 L165.3,315.4 L166.1,315.3 L166.9,315.3 L167.6,315.2 L168.4,315.1 L169.2,315.1 L169.9,315.0 L170.7,315.0 L171.5,315.0 L172.2,314.9 L173.0,314.9 L173.8,314.9 L174.5,314.8 L175.3,314.8 L176.1,314.7 L176.8,314.7 L177.6,314.7 L178.4,314.7 L179.1,314.6 L179.9,314.6 L180.7,314.6 L181.4,314.6 L182.2,314.5 L183.0,314.5 L183.7,314.5 L184.5,314.5 L185.3,314.5 L186.1,314.5 L186.8,314.4 L187.6,314.4 L188.4,314.4 L189.1,314.4 L189.9,314.4 L190.7,314.4 L191.4,314.3 L192.2,314.3 L193.0,314.3 L193.7,314.3 L194.5,314.3 L195.3,314.3 L196.0,314.3 L196.8,314.2 L197.6,314.2 L198.3,314.2 L199.1,314.2 L199.9,314.2 L200.6,314.2 L201.4,314.2 L202.2,314.2 L202.9,314.1 L203.7,314.1 L204.5,314.1 L205.3,314.1 L206.0,314.1 L206.8,314.1 L207.6,314.1 L208.3,314.1 L209.1,314.0 L209.9,314.0 L210.6,314.0 L211.4,314.0 L212.2,314.0 L212.9,314.0 L213.7,314.0 L214.5,313.9 L215.2,313.9 L216.0,313.9 L216.8,313.9 L217.5,313.9 L218.3,313.9 L219.1,313.9 L219.8,313.8 L220.6,313.8 L221.4,313.8 L222.1,313.8 L222.9,313.8 L223.7,313.8 L224.5,313.7 L225.2,313.7 L226.0,313.7 L226.8,313.7 L227.5,313.7 L228.3,313.6 L229.1,313.6 L229.8,313.6 L230.6,313.6 L231.4,313.5 L232.1,313.5 L232.9,313.4 L233.7,313.4 L234.4,313.4 L235.2,313.3 L236.0,313.3 L236.7,313.3 L237.5,313.2 L238.3,313.2 L239.0,313.1 L239.8,313.1 L240.6,313.0 L241.3,313.0 L242.1,312.9 L242.9,312.8 L243.7,312.8 L244.4,312.7 L245.2,312.7 L246.0,312.6 L246.7,312.6 L247.5,312.5 L248.3,312.4 L249.0,312.4 L249.8,312.3 L250.6,312.3 L251.3,312.2 L252.1,312.1 L252.9,312.1 L253.6,312.0 L254.4,311.9 L255.2,311.8 L255.9,311.7 L256.7,311.6 L257.5,311.5 L258.2,311.4 L259.0,311.3 L259.8,311.2 L260.5,311.1 L261.3,311.0 L262.1,310.8 L262.8,310.7 L263.6,310.5 L264.4,310.3 L265.2,310.1 L265.9,309.9 L266.7,309.8 L267.5,309.6 L268.2,309.4 L269.0,309.2 L269.8,308.8 L270.5,308.4 L271.3,308.0 L272.1,307.6 L272.8,307.2 L273.6,306.8 L274.4,306.4 L275.1,305.9 L275.9,305.5 L276.7,305.1 L277.4,304.5 L278.2,303.8 L279.0,303.2 L279.7,302.5 L280.5,301.9 L281.3,300.8 L282.0,299.7 L282.8,298.6 L283.6,297.5 L284.4,296.3 L285.1,295.4 L285.9,294.4 L286.7,293.5 L287.4,292.5 L288.2,291.6 L289.0,289.9 L289.7,288.2 L290.5,286.5 L291.3,284.8 L292.0,283.1 L292.8,281.5 L293.6,280.0 L294.3,278.4 L295.1,276.9 L295.9,275.3 L296.6,273.9 L297.4,272.4 L298.2,270.9 L298.9,269.4 L299.7,268.0 L300.5,266.7 L301.2,265.5 L302.0,264.3 L302.8,263.1 L303.6,261.9 L304.3,260.5 L305.1,259.1 L305.9,257.7 L306.6,256.3 L307.4,254.9 L308.2,253.8 L308.9,252.6 L309.7,251.4 L310.5,250.3 L311.2,249.1 L312.0,248.0" fill="none" stroke="#38e428" stroke-width="2" stroke-linejoin="round"/>
<text x="67" y="243.8" text-anchor="end" class="ax">1.500.000</text>
<line x1="72" y1="241.6" x2="77" y2="241.6" stroke="#666" stroke-width="1"/>
<text x="67" y="271.7" text-anchor="end" class="ax">1.000.000</text>
<line x1="72" y1="269.5333333333333" x2="77" y2="269.5333333333333" stroke="#666" stroke-width="1"/>
<text x="67" y="299.7" text-anchor="end" class="ax">500.000</text>
<line x1="72" y1="297.46666666666664" x2="77" y2="297.46666666666664" stroke="#666" stroke-width="1"/>
<text x="67" y="327.6" text-anchor="end" class="ax">0</text>
<line x1="72" y1="325.4" x2="77" y2="325.4" stroke="#666" stroke-width="1"/>
<text x="184" y="340.5" text-anchor="middle" class="ax">lug</text>
<circle cx="77" cy="235" r="7.5" fill="#fff"/>
<path d="M75.5,231.5v7M78.5,231.5v7" stroke="#888" stroke-width="1"/>
<circle cx="312" cy="235" r="7.5" fill="#fff"/>
<path d="M310.5,231.5v7M313.5,231.5v7" stroke="#888" stroke-width="1"/>
<rect x="64" y="407" width="248" height="12.5" fill="#303030"/>
<line x1="64" y1="468.0" x2="312" y2="468.0" stroke="#3c3c3c" stroke-width="1" stroke-dasharray="2,2"/>
<line x1="64" y1="443.5" x2="312" y2="443.5" stroke="#3c3c3c" stroke-width="1" stroke-dasharray="2,2"/>
<line x1="64" y1="419.0" x2="312" y2="419.0" stroke="#3c3c3c" stroke-width="1" stroke-dasharray="2,2"/>
<line x1="167.7" y1="419" x2="167.7" y2="496.5" stroke="#3c3c3c" stroke-width="1" stroke-dasharray="2,2"/>
<path d="M64.0,492.3 L64.8,492.2 L65.6,492.1 L66.4,492.0 L67.2,491.9 L68.1,491.8 L68.9,491.8 L69.7,491.8 L70.5,491.7 L71.3,491.5 L72.1,491.3 L72.9,490.9 L73.7,490.5 L74.5,490.3 L75.3,490.2 L76.2,489.7 L77.0,489.2 L77.8,488.7 L78.6,488.1 L79.4,488.0 L80.2,488.4 L81.0,488.8 L81.8,487.9 L82.6,486.6 L83.5,485.5 L84.3,484.7 L85.1,484.4 L85.9,485.8 L86.7,487.1 L87.5,486.5 L88.3,485.6 L89.1,485.1 L89.9,485.1 L90.7,485.5 L91.6,486.8 L92.4,487.9 L93.2,487.4 L94.0,486.7 L94.8,486.2 L95.6,486.1 L96.4,486.5 L97.2,487.5 L98.0,488.5 L98.8,488.1 L99.7,487.5 L100.5,487.1 L101.3,487.1 L102.1,487.5 L102.9,488.4 L103.7,489.2 L104.5,488.9 L105.3,488.4 L106.1,488.1 L107.0,488.0 L107.8,488.2 L108.6,488.9 L109.4,489.3 L110.2,489.2 L111.0,489.0 L111.8,489.0 L112.6,489.0 L113.4,489.2 L114.2,489.7 L115.1,490.1 L115.9,490.1 L116.7,490.0 L117.5,490.0 L118.3,490.1 L119.1,490.3 L119.9,490.7 L120.7,491.0 L121.5,491.0 L122.4,490.9 L123.2,490.8 L124.0,490.8 L124.8,490.9 L125.6,491.1 L126.4,491.4 L127.2,491.3 L128.0,491.3 L128.8,491.3 L129.6,491.3 L130.5,491.4 L131.3,491.6 L132.1,491.7 L132.9,491.7 L133.7,491.7 L134.5,491.6 L135.3,491.6 L136.1,491.7 L136.9,491.8 L137.8,491.9 L138.6,491.9 L139.4,491.8 L140.2,491.8 L141.0,491.9 L141.8,491.9 L142.6,492.0 L143.4,492.1 L144.2,492.1 L145.0,492.1 L145.9,492.0 L146.7,492.0 L147.5,492.1 L148.3,492.1 L149.1,492.2 L149.9,492.1 L150.7,492.1 L151.5,492.1 L152.3,492.1 L153.2,492.1 L154.0,492.2 L154.8,492.2 L155.6,492.2 L156.4,492.2 L157.2,492.2 L158.0,492.2 L158.8,492.2 L159.6,492.2 L160.4,492.3 L161.3,492.2 L162.1,492.2 L162.9,492.2 L163.7,492.2 L164.5,492.2 L165.3,492.3 L166.1,492.3 L166.9,492.3 L167.7,492.2 L168.5,492.2 L169.4,492.2 L170.2,492.2 L171.0,492.3 L171.8,492.3 L172.6,492.3 L173.4,492.3 L174.2,492.2 L175.0,492.2 L175.8,492.2 L176.7,492.3 L177.5,492.3 L178.3,492.3 L179.1,492.2 L179.9,492.2 L180.7,492.2 L181.5,492.2 L182.3,492.2 L183.1,492.3 L183.9,492.2 L184.8,492.2 L185.6,492.2 L186.4,492.2 L187.2,492.2 L188.0,492.2 L188.8,492.2 L189.6,492.2 L190.4,492.2 L191.2,492.1 L192.1,492.1 L192.9,492.1 L193.7,492.1 L194.5,492.2 L195.3,492.1 L196.1,492.1 L196.9,492.0 L197.7,492.0 L198.5,492.0 L199.3,492.0 L200.2,492.1 L201.0,492.0 L201.8,491.9 L202.6,491.8 L203.4,491.8 L204.2,491.7 L205.0,491.8 L205.8,491.8 L206.6,491.7 L207.5,491.6 L208.3,491.4 L209.1,491.4 L209.9,491.3 L210.7,491.4 L211.5,491.5 L212.3,491.3 L213.1,491.2 L213.9,491.1 L214.7,491.0 L215.6,491.0 L216.4,491.1 L217.2,491.2 L218.0,491.0 L218.8,490.9 L219.6,490.8 L220.4,490.7 L221.2,490.7 L222.0,490.9 L222.8,491.0 L223.7,490.9 L224.5,490.7 L225.3,490.6 L226.1,490.6 L226.9,490.6 L227.7,490.8 L228.5,490.9 L229.3,490.8 L230.1,490.6 L231.0,490.5 L231.8,490.5 L232.6,490.5 L233.4,490.7 L234.2,490.9 L235.0,490.7 L235.8,490.5 L236.6,490.3 L237.4,490.2 L238.2,490.2 L239.1,490.3 L239.9,490.5 L240.7,490.3 L241.5,490.1 L242.3,489.9 L243.1,489.6 L243.9,489.5 L244.7,489.6 L245.5,489.7 L246.4,489.3 L247.2,488.6 L248.0,487.7 L248.8,487.1 L249.6,486.8 L250.4,487.3 L251.2,487.6 L252.0,486.4 L252.8,484.6 L253.6,483.0 L254.5,481.8 L255.3,481.0 L256.1,481.7 L256.9,482.8 L257.7,480.5 L258.5,477.5 L259.3,474.4 L260.1,472.0 L260.9,471.1 L261.8,472.9 L262.6,475.3 L263.4,471.4 L264.2,466.0 L265.0,461.2 L265.8,457.8 L266.6,456.8 L267.4,461.1 L268.2,465.7 L269.0,461.2 L269.9,455.0 L270.7,450.0 L271.5,447.6 L272.3,448.3 L273.1,454.3 L273.9,460.6 L274.7,455.8 L275.5,449.6 L276.3,444.9 L277.2,442.8 L278.0,444.9 L278.8,452.5 L279.6,459.9 L280.4,456.1 L281.2,450.6 L282.0,447.8 L282.8,447.5 L283.6,450.2 L284.4,457.7 L285.3,464.8 L286.1,462.3 L286.9,458.8 L287.7,456.8 L288.5,457.0 L289.3,459.6 L290.1,465.4 L290.9,470.9 L291.7,468.9 L292.5,466.0 L293.4,464.4 L294.2,464.2 L295.0,466.0 L295.8,470.7 L296.6,475.2 L297.4,473.6 L298.2,471.0 L299.0,469.3 L299.8,468.9 L300.7,470.1 L301.5,473.9 L302.3,477.3 L303.1,475.5 L303.9,472.9 L304.7,471.1 L305.5,470.5 L306.3,471.6 L307.1,470.6 L307.9,474.0 L308.8,476.2 L309.6,470.4 L310.4,469.2 L311.2,472.9 L312.0,479.8 L312.0,492.5 L64.0,492.5 Z" fill="#f5a623" fill-opacity="0.14"/>
<line x1="64" y1="419" x2="64" y2="492.5" stroke="#666" stroke-width="1"/>
<line x1="64" y1="492.5" x2="312" y2="492.5" stroke="#666" stroke-width="1"/>
<path d="M64.0,492.3 L64.8,492.2 L65.6,492.1 L66.4,492.0 L67.2,491.9 L68.1,491.8 L68.9,491.8 L69.7,491.8 L70.5,491.7 L71.3,491.5 L72.1,491.3 L72.9,490.9 L73.7,490.5 L74.5,490.3 L75.3,490.2 L76.2,489.7 L77.0,489.2 L77.8,488.7 L78.6,488.1 L79.4,488.0 L80.2,488.4 L81.0,488.8 L81.8,487.9 L82.6,486.6 L83.5,485.5 L84.3,484.7 L85.1,484.4 L85.9,485.8 L86.7,487.1 L87.5,486.5 L88.3,485.6 L89.1,485.1 L89.9,485.1 L90.7,485.5 L91.6,486.8 L92.4,487.9 L93.2,487.4 L94.0,486.7 L94.8,486.2 L95.6,486.1 L96.4,486.5 L97.2,487.5 L98.0,488.5 L98.8,488.1 L99.7,487.5 L100.5,487.1 L101.3,487.1 L102.1,487.5 L102.9,488.4 L103.7,489.2 L104.5,488.9 L105.3,488.4 L106.1,488.1 L107.0,488.0 L107.8,488.2 L108.6,488.9 L109.4,489.3 L110.2,489.2 L111.0,489.0 L111.8,489.0 L112.6,489.0 L113.4,489.2 L114.2,489.7 L115.1,490.1 L115.9,490.1 L116.7,490.0 L117.5,490.0 L118.3,490.1 L119.1,490.3 L119.9,490.7 L120.7,491.0 L121.5,491.0 L122.4,490.9 L123.2,490.8 L124.0,490.8 L124.8,490.9 L125.6,491.1 L126.4,491.4 L127.2,491.3 L128.0,491.3 L128.8,491.3 L129.6,491.3 L130.5,491.4 L131.3,491.6 L132.1,491.7 L132.9,491.7 L133.7,491.7 L134.5,491.6 L135.3,491.6 L136.1,491.7 L136.9,491.8 L137.8,491.9 L138.6,491.9 L139.4,491.8 L140.2,491.8 L141.0,491.9 L141.8,491.9 L142.6,492.0 L143.4,492.1 L144.2,492.1 L145.0,492.1 L145.9,492.0 L146.7,492.0 L147.5,492.1 L148.3,492.1 L149.1,492.2 L149.9,492.1 L150.7,492.1 L151.5,492.1 L152.3,492.1 L153.2,492.1 L154.0,492.2 L154.8,492.2 L155.6,492.2 L156.4,492.2 L157.2,492.2 L158.0,492.2 L158.8,492.2 L159.6,492.2 L160.4,492.3 L161.3,492.2 L162.1,492.2 L162.9,492.2 L163.7,492.2 L164.5,492.2 L165.3,492.3 L166.1,492.3 L166.9,492.3 L167.7,492.2 L168.5,492.2 L169.4,492.2 L170.2,492.2 L171.0,492.3 L171.8,492.3 L172.6,492.3 L173.4,492.3 L174.2,492.2 L175.0,492.2 L175.8,492.2 L176.7,492.3 L177.5,492.3 L178.3,492.3 L179.1,492.2 L179.9,492.2 L180.7,492.2 L181.5,492.2 L182.3,492.2 L183.1,492.3 L183.9,492.2 L184.8,492.2 L185.6,492.2 L186.4,492.2 L187.2,492.2 L188.0,492.2 L188.8,492.2 L189.6,492.2 L190.4,492.2 L191.2,492.1 L192.1,492.1 L192.9,492.1 L193.7,492.1 L194.5,492.2 L195.3,492.1 L196.1,492.1 L196.9,492.0 L197.7,492.0 L198.5,492.0 L199.3,492.0 L200.2,492.1 L201.0,492.0 L201.8,491.9 L202.6,491.8 L203.4,491.8 L204.2,491.7 L205.0,491.8 L205.8,491.8 L206.6,491.7 L207.5,491.6 L208.3,491.4 L209.1,491.4 L209.9,491.3 L210.7,491.4 L211.5,491.5 L212.3,491.3 L213.1,491.2 L213.9,491.1 L214.7,491.0 L215.6,491.0 L216.4,491.1 L217.2,491.2 L218.0,491.0 L218.8,490.9 L219.6,490.8 L220.4,490.7 L221.2,490.7 L222.0,490.9 L222.8,491.0 L223.7,490.9 L224.5,490.7 L225.3,490.6 L226.1,490.6 L226.9,490.6 L227.7,490.8 L228.5,490.9 L229.3,490.8 L230.1,490.6 L231.0,490.5 L231.8,490.5 L232.6,490.5 L233.4,490.7 L234.2,490.9 L235.0,490.7 L235.8,490.5 L236.6,490.3 L237.4,490.2 L238.2,490.2 L239.1,490.3 L239.9,490.5 L240.7,490.3 L241.5,490.1 L242.3,489.9 L243.1,489.6 L243.9,489.5 L244.7,489.6 L245.5,489.7 L246.4,489.3 L247.2,488.6 L248.0,487.7 L248.8,487.1 L249.6,486.8 L250.4,487.3 L251.2,487.6 L252.0,486.4 L252.8,484.6 L253.6,483.0 L254.5,481.8 L255.3,481.0 L256.1,481.7 L256.9,482.8 L257.7,480.5 L258.5,477.5 L259.3,474.4 L260.1,472.0 L260.9,471.1 L261.8,472.9 L262.6,475.3 L263.4,471.4 L264.2,466.0 L265.0,461.2 L265.8,457.8 L266.6,456.8 L267.4,461.1 L268.2,465.7 L269.0,461.2 L269.9,455.0 L270.7,450.0 L271.5,447.6 L272.3,448.3 L273.1,454.3 L273.9,460.6 L274.7,455.8 L275.5,449.6 L276.3,444.9 L277.2,442.8 L278.0,444.9 L278.8,452.5 L279.6,459.9 L280.4,456.1 L281.2,450.6 L282.0,447.8 L282.8,447.5 L283.6,450.2 L284.4,457.7 L285.3,464.8 L286.1,462.3 L286.9,458.8 L287.7,456.8 L288.5,457.0 L289.3,459.6 L290.1,465.4 L290.9,470.9 L291.7,468.9 L292.5,466.0 L293.4,464.4 L294.2,464.2 L295.0,466.0 L295.8,470.7 L296.6,475.2 L297.4,473.6 L298.2,471.0 L299.0,469.3 L299.8,468.9 L300.7,470.1 L301.5,473.9 L302.3,477.3 L303.1,475.5 L303.9,472.9 L304.7,471.1 L305.5,470.5 L306.3,471.6 L307.1,470.6 L307.9,474.0 L308.8,476.2 L309.6,470.4 L310.4,469.2 L311.2,472.9 L312.0,479.8" fill="none" stroke="#fcae1c" stroke-width="2" stroke-linejoin="round"/>
<text x="54" y="422.5" text-anchor="end" class="ax">60.000</text>
<line x1="59" y1="419.0" x2="64" y2="419.0" stroke="#666" stroke-width="1"/>
<text x="54" y="447.0" text-anchor="end" class="ax">40.000</text>
<line x1="59" y1="443.5" x2="64" y2="443.5" stroke="#666" stroke-width="1"/>
<text x="54" y="471.5" text-anchor="end" class="ax">20.000</text>
<line x1="59" y1="468.0" x2="64" y2="468.0" stroke="#666" stroke-width="1"/>
<text x="54" y="496.0" text-anchor="end" class="ax">0</text>
<line x1="59" y1="492.5" x2="64" y2="492.5" stroke="#666" stroke-width="1"/>
<text x="176" y="507" text-anchor="middle" class="ax">lug</text>
<circle cx="64" cy="412" r="7.5" fill="#fff"/>
<path d="M62.5,408.5v7M65.5,408.5v7" stroke="#888" stroke-width="1"/>
<circle cx="312" cy="412" r="7.5" fill="#fff"/>
<path d="M310.5,408.5v7M313.5,408.5v7" stroke="#888" stroke-width="1"/>
</svg>
<div class="tab act" style="left:14px;top:518px;width:53px">Positivi</div>
<div class="tab" style="left:71px;top:518px;width:69px">Variazione</div>

<svg class="abs" style="left:348px;top:185px" width="667" height="244" viewBox="348 185 667 244">
<rect x="348" y="185" width="667" height="244" fill="#262628"/>
<rect x="348" y="185" width="667" height="244" fill="#3c3c3d"/>
<path d="M348.0,185.0 L471.3,185.0 L474.7,198.7 L476.1,209.4 L469.3,208.4 L462.0,210.5 L453.7,212.3 L447.8,206.5 L439.3,206.7 L425.6,211.2 L415.3,214.7 L414.2,219.2 L416.5,224.9 L423.3,228.4 L418.7,230.6 L426.7,234.1 L439.3,237.5 L448.4,242.1 L457.5,245.5 L462.1,251.2 L466.7,255.7 L467.8,262.6 L472.4,269.4 L478.1,276.3 L482.6,283.1 L483.8,292.3 L484.9,305.0 L482.6,318.7 L481.5,332.4 L479.2,348.4 L474.7,356.3 L462.1,356.3 L450.7,354.1 L439.3,352.9 L425.6,354.1 L405.1,351.8 L393.6,349.5 L370.8,349.5 L359.4,346.1 L348.0,347.2 Z" fill="#222326" />
<path d="M482.0,185.0 L483.0,188.0 L490.0,190.0 L500.0,190.5 L506.0,189.0 L508.4,185.0 Z" fill="#222326" />
<path d="M518.7,429.0 L527.8,416.8 L546.1,407.7 L559.8,398.6 L565.5,389.4 L562.0,378.0 L565.5,364.3 L573.5,355.2 L582.6,351.8 L596.3,356.3 L605.4,355.2 L614.5,362.0 L623.7,360.9 L635.1,354.1 L646.5,346.1 L657.0,338.0 L666.2,330.7 L675.3,328.0 L686.7,330.7 L695.8,337.6 L702.7,346.7 L704.0,353.0 L706.2,363.6 L713.7,374.4 L722.3,383.0 L730.9,395.9 L745.9,406.6 L756.7,415.2 L763.1,423.8 L765.3,429.0 Z" fill="#222326" />
<path d="M684.5,366.0 L687.5,374.0 L687.9,385.0 L687.9,394.0 L686.0,402.0 L683.0,408.0 L679.5,409.5 L674.0,406.0 L671.0,400.0 L668.6,388.0 L671.0,380.0 L675.5,375.0 L681.0,371.0 L683.0,366.5 Z" fill="#3c3c3d" />
<path d="M679.3,413.0 L684.0,413.5 L688.0,415.5 L690.5,421.0 L692.2,429.0 L660.0,429.0 L663.0,423.0 L666.4,419.5 L672.0,416.5 Z" fill="#3c3c3d" />
<path d="M751.0,296.5 L755.2,294.0 L760.7,293.0 L763.4,290.4 L768.0,293.5 L766.0,296.5 L763.2,300.6 L764.3,306.0 L765.5,310.3 L768.0,315.0 L770.4,317.4 L773.0,313.5 L775.4,310.3 L778.0,305.5 L780.7,303.4 L784.0,306.0 L787.0,311.0 L789.5,314.0 L791.0,320.0 L792.5,324.8 L801.6,338.5 L813.0,349.9 L826.7,361.3 L840.4,370.4 L854.1,379.5 L862.0,385.1 L870.0,391.7 L878.0,396.3 L879.2,405.4 L875.8,414.5 L874.7,429.0 L853.4,429.0 L849.0,426.0 L842.6,419.5 L831.9,408.8 L820.0,404.0 L810.4,403.4 L813.6,396.9 L806.1,393.7 L793.2,394.8 L784.6,389.4 L776.0,376.5 L769.6,363.6 L765.3,352.9 L757.5,346.7 L748.3,339.9 L740.5,330.0 L740.0,322.0 L744.7,313.9 L740.5,306.4 L746.4,298.7 Z" fill="#222326" />
<ellipse cx="701" cy="372" rx="3" ry="1.5" fill="#3c3c3d"/>
<path d="M780.5,312.0 L781.5,318.0 L782.5,323.0" fill="none" stroke="#3c3c3d" stroke-width="2" stroke-linejoin="round"/>
<ellipse cx="784.500" cy="310.5" rx="2.6" ry="2.2" fill="#3c3c3d"/>
<path d="M786.0,319.0 L789.0,324.0 L792.0,329.0" fill="none" stroke="#3c3c3d" stroke-width="1.6" stroke-linejoin="round"/>
<path d="M819.0,358.0 L826.5,358.6" fill="none" stroke="#3c3c3d" stroke-width="2.2" stroke-linejoin="round"/>
<path d="M817.5,362.2 L831.0,363.6" fill="none" stroke="#3c3c3d" stroke-width="1.4" stroke-linejoin="round"/>
<path d="M823.5,367.5 L832.0,368.8" fill="none" stroke="#3c3c3d" stroke-width="1.5" stroke-linejoin="round"/>
<path d="M835.0,367.5 L843.0,371.5" fill="none" stroke="#3c3c3d" stroke-width="1.3" stroke-linejoin="round"/>
<path d="M793.0,333.0 L797.0,339.0 L802.0,344.0" fill="none" stroke="#3c3c3d" stroke-width="1.3" stroke-linejoin="round"/>
<path d="M474.7,356.3 L484.9,364.3 L496.3,370.0 L505.0,372.3 L518.0,373.5 L532.4,375.7 L550.6,381.4 L565.5,382.6" fill="none" stroke="#343435" stroke-width="1" stroke-linejoin="round"/>
<path d="M348.0,392.9 L380.0,392.9 L384.5,400.8 L375.4,416.8 L374.2,429.0" fill="none" stroke="#343435" stroke-width="1" stroke-linejoin="round"/>
<path d="M626.8,185.0 L638.0,194.0 L661.0,203.0 L654.0,219.0 L649.6,239.8 L638.0,246.6 L631.0,258.0 L624.5,269.4 L622.3,280.8 L630.0,286.0 L636.0,288.0 L640.0,296.0 L637.0,305.0 L639.6,314.1 L637.4,325.5 L644.2,334.7 L651.0,343.8" fill="none" stroke="#343435" stroke-width="1" stroke-linejoin="round"/>
<path d="M640.0,296.0 L650.0,290.0 L660.0,294.0 L668.0,285.0 L680.0,290.0 L690.0,282.0 L700.0,280.0 L704.0,270.0 L698.7,264.9 L707.8,260.3 L730.6,260.3 L742.0,272.9 L760.3,275.0 L783.0,270.6 L808.2,269.4 L817.4,260.3 L831.0,242.0 L826.5,230.6 L831.0,210.0 L812.8,206.7 L794.5,202.1 L776.3,207.8 L760.3,198.7 L746.6,185.0" fill="none" stroke="#343435" stroke-width="1" stroke-linejoin="round"/>
<path d="M649.6,239.8 L674.7,234.0 L690.0,238.0 L703.3,248.9 L698.7,264.9" fill="none" stroke="#343435" stroke-width="1" stroke-linejoin="round"/>
<path d="M760.3,198.7 L753.5,214.7 L749.0,226.0 L737.5,239.8 L719.2,244.3 L703.3,248.9" fill="none" stroke="#343435" stroke-width="1" stroke-linejoin="round"/>
<path d="M760.3,275.0 L762.6,285.4 L770.0,289.5" fill="none" stroke="#343435" stroke-width="1" stroke-linejoin="round"/>
<path d="M808.2,269.4 L812.8,280.8 L799.0,292.3 L785.4,299.0 L774.0,300.0" fill="none" stroke="#343435" stroke-width="1" stroke-linejoin="round"/>
<path d="M812.8,280.8 L830.0,284.0 L850.0,290.0 L865.5,287.7 L902.0,278.6 L913.5,271.7 L924.9,244.3 L943.0,228.4 L929.4,217.0 L909.0,212.4 L867.8,226.0 L845.0,234.0 L831.0,242.0" fill="none" stroke="#343435" stroke-width="1" stroke-linejoin="round"/>
<path d="M831.0,210.0 L845.0,200.0 L860.0,196.0 L880.0,190.0 L900.0,192.0 L920.0,190.0 L940.8,196.4 L936.0,185.0" fill="none" stroke="#343435" stroke-width="1" stroke-linejoin="round"/>
<path d="M940.8,196.4 L929.4,217.0" fill="none" stroke="#343435" stroke-width="1" stroke-linejoin="round"/>
<path d="M943.0,228.4 L982.0,234.0 L1015.0,221.5" fill="none" stroke="#343435" stroke-width="1" stroke-linejoin="round"/>
<path d="M865.5,287.7 L872.0,300.0 L885.0,304.0 L900.0,300.0 L915.0,306.0 L928.0,302.0 L940.0,310.0 L952.0,318.0 L962.0,322.0" fill="none" stroke="#343435" stroke-width="1" stroke-linejoin="round"/>
<path d="M799.0,292.3 L812.0,303.0 L830.0,300.0 L850.0,304.0 L872.0,300.0" fill="none" stroke="#343435" stroke-width="1" stroke-linejoin="round"/>
<path d="M812.0,303.0 L820.0,322.0 L835.0,340.0 L850.0,352.0 L862.0,362.0 L870.0,372.0 L868.0,382.0" fill="none" stroke="#343435" stroke-width="1" stroke-linejoin="round"/>
<path d="M885.0,304.0 L880.0,318.0 L886.0,330.0 L880.0,345.0 L870.0,372.0" fill="none" stroke="#343435" stroke-width="1" stroke-linejoin="round"/>
<path d="M962.0,322.0 L957.0,335.0 L965.0,345.0 L958.0,358.0 L965.0,372.0 L958.0,385.0 L948.0,392.0 L950.0,405.0 L940.0,412.0" fill="none" stroke="#343435" stroke-width="1" stroke-linejoin="round"/>
<path d="M962.0,322.0 L980.0,326.0 L1000.0,318.0 L1015.0,320.0" fill="none" stroke="#343435" stroke-width="1" stroke-linejoin="round"/>
<path d="M880.0,390.0 L890.0,385.0 L905.0,392.0 L915.0,385.0 L928.0,392.0 L940.0,388.0 L948.0,392.0" fill="none" stroke="#343435" stroke-width="1" stroke-linejoin="round"/>
<path d="M890.0,385.0 L898.0,372.0 L912.0,365.0 L925.0,372.0 L928.0,392.0" fill="none" stroke="#343435" stroke-width="1" stroke-linejoin="round"/>
<path d="M905.0,392.0 L900.0,405.0 L905.0,418.0 L898.0,429.0" fill="none" stroke="#343435" stroke-width="1" stroke-linejoin="round"/>
<path d="M940.0,412.0 L925.0,415.0 L912.0,412.0 L905.0,418.0" fill="none" stroke="#343435" stroke-width="1" stroke-linejoin="round"/>
<path d="M640.0,296.0 L650.0,290.0 L660.0,294.0 L668.0,285.0 L680.0,290.0 L690.0,282.0 L700.0,280.0 L704.0,270.0 L698.7,264.9 L707.8,260.3 L730.6,260.3 L742.0,272.9 L760.3,275.0 L762.6,285.4 L770.0,289.5 L762.0,290.0 L757.5,293.0 L753.7,303.0 L746.0,313.6 L741.5,321.6 L741.0,331.0 L748.3,339.9 L757.5,346.7 L765.3,352.9 L769.6,363.6 L776.0,376.5 L784.6,389.4 L793.2,394.8 L806.1,393.7 L813.6,396.9 L810.4,403.4 L820.0,404.0 L831.9,408.8 L842.6,419.5 L849.0,426.0 L853.4,429.0 L765.3,429.0 L763.1,423.8 L756.7,415.2 L745.9,406.6 L730.9,395.9 L722.3,383.0 L713.7,374.4 L706.2,363.6 L704.0,353.0 L702.7,346.7 L695.8,337.6 L686.7,330.7 L675.3,328.0 L666.2,330.7 L657.0,338.0 L651.0,343.8 L644.2,334.7 L637.4,325.5 L639.6,314.1 L637.0,305.0 Z" fill="#000" fill-opacity="0.06" stroke="#2c2c2d" stroke-width="1"/>
<path d="M637.0,305.0 L648.0,300.0 L655.0,296.0 L660.0,294.0" fill="none" stroke="#2e2e2f" stroke-width="1" stroke-linejoin="round"/>
<path d="M668.0,285.0 L666.0,300.0 L662.0,312.0 L668.0,322.0 L662.0,330.0 L657.0,338.0" fill="none" stroke="#2e2e2f" stroke-width="1" stroke-linejoin="round"/>
<path d="M662.0,330.0 L672.0,322.0 L684.0,324.0 L694.0,330.0 L702.0,340.0" fill="none" stroke="#2e2e2f" stroke-width="1" stroke-linejoin="round"/>
<path d="M668.0,322.0 L684.0,318.0 L700.0,316.0 L714.0,312.0 L728.0,316.0 L741.5,321.6" fill="none" stroke="#2e2e2f" stroke-width="1" stroke-linejoin="round"/>
<path d="M704.0,270.0 L706.0,284.0 L700.0,292.0 L706.0,302.0 L704.0,312.0" fill="none" stroke="#2e2e2f" stroke-width="1" stroke-linejoin="round"/>
<path d="M706.0,284.0 L716.0,290.0 L726.0,288.0 L734.0,280.0 L742.0,272.9" fill="none" stroke="#2e2e2f" stroke-width="1" stroke-linejoin="round"/>
<path d="M716.0,276.0 L726.0,274.0 L734.0,280.0" fill="none" stroke="#2e2e2f" stroke-width="1" stroke-linejoin="round"/>
<path d="M746.0,300.0 L754.0,292.0 L752.0,282.0 L760.3,275.0" fill="none" stroke="#2e2e2f" stroke-width="1" stroke-linejoin="round"/>
<path d="M694.0,330.0 L706.0,332.0 L716.0,338.0 L728.0,336.0 L738.0,342.0 L748.3,339.9" fill="none" stroke="#2e2e2f" stroke-width="1" stroke-linejoin="round"/>
<path d="M738.0,342.0 L742.0,352.0 L750.0,356.0 L757.5,346.7" fill="none" stroke="#2e2e2f" stroke-width="1" stroke-linejoin="round"/>
<path d="M742.0,352.0 L736.0,362.0 L728.0,372.0 L734.0,380.0 L728.0,390.0" fill="none" stroke="#2e2e2f" stroke-width="1" stroke-linejoin="round"/>
<path d="M736.0,362.0 L746.0,368.0 L752.0,364.0 L758.0,372.0 L769.6,363.6" fill="none" stroke="#2e2e2f" stroke-width="1" stroke-linejoin="round"/>
<path d="M746.0,368.0 L750.0,380.0 L746.0,388.0 L756.0,394.0 L764.0,402.0 L756.7,415.2" fill="none" stroke="#2e2e2f" stroke-width="1" stroke-linejoin="round"/>
<path d="M750.0,380.0 L764.0,376.0 L776.0,376.5" fill="none" stroke="#2e2e2f" stroke-width="1" stroke-linejoin="round"/>
<path d="M764.0,402.0 L776.0,398.0 L784.6,389.4" fill="none" stroke="#2e2e2f" stroke-width="1" stroke-linejoin="round"/>
<path d="M776.0,398.0 L790.0,406.0 L796.0,402.0 L806.1,393.7" fill="none" stroke="#2e2e2f" stroke-width="1" stroke-linejoin="round"/>
<path d="M790.0,406.0 L786.0,416.0 L794.0,422.0 L798.0,429.0" fill="none" stroke="#2e2e2f" stroke-width="1" stroke-linejoin="round"/>
<path d="M794.0,422.0 L806.0,414.0 L818.0,416.0 L826.0,424.0 L834.0,429.0" fill="none" stroke="#2e2e2f" stroke-width="1" stroke-linejoin="round"/>
<circle cx="644.6" cy="291.5" r="5.7" fill="#e3be1b" stroke="#3d3305" stroke-width="0.8"/>
<circle cx="651.3" cy="309.8" r="9.3" fill="#e3be1b" stroke="#3d3305" stroke-width="0.8"/>
<circle cx="680" cy="298.5" r="11.3" fill="#e3be1b" stroke="#3d3305" stroke-width="0.8"/>
<circle cx="675.3" cy="327.5" r="5.2" fill="#e3be1b" stroke="#3d3305" stroke-width="0.8"/>
<circle cx="721.5" cy="270.4" r="7.4" fill="#e3be1b" stroke="#3d3305" stroke-width="0.8"/>
<circle cx="716.5" cy="282" r="5.5" fill="#e3be1b" stroke="#3d3305" stroke-width="0.8"/>
<circle cx="739.8" cy="299.3" r="13" fill="#e3be1b" stroke="#3d3305" stroke-width="0.8"/>
<circle cx="767.7" cy="293.8" r="7.3" fill="#e3be1b" stroke="#3d3305" stroke-width="0.8"/>
<circle cx="721.6" cy="325" r="11.4" fill="#e3be1b" stroke="#3d3305" stroke-width="0.8"/>
<circle cx="720" cy="344.8" r="7.2" fill="#e3be1b" stroke="#3d3305" stroke-width="0.8"/>
<circle cx="762.5" cy="348.6" r="5.4" fill="#e3be1b" stroke="#3d3305" stroke-width="0.8"/>
<circle cx="741.2" cy="362" r="5.2" fill="#e3be1b" stroke="#3d3305" stroke-width="0.8"/>
<circle cx="759.9" cy="381" r="7.2" fill="#e3be1b" stroke="#3d3305" stroke-width="0.8"/>
<circle cx="743.3" cy="392.5" r="11.2" fill="#e3be1b" stroke="#3d3305" stroke-width="0.8"/>
<circle cx="784.2" cy="402.3" r="5.4" fill="#e3be1b" stroke="#3d3305" stroke-width="0.8"/>
<circle cx="777.1" cy="419.5" r="12.9" fill="#e3be1b" stroke="#3d3305" stroke-width="0.8"/>
<circle cx="826.5" cy="413" r="11.2" fill="#e3be1b" stroke="#3d3305" stroke-width="0.8"/>
<circle cx="806.1" cy="424.2" r="5.4" fill="#e3be1b" stroke="#3d3305" stroke-width="0.8"/>
<g font-family="'Liberation Sans',sans-serif">
<text x="423" y="194" font-size="9.5px" fill="#8a8d92" font-weight="bold" font-style="italic" textLength="39" lengthAdjust="spacing">Channel</text>
<text x="396" y="305.8" font-size="9.5px" fill="#5e6166" font-weight="bold" font-style="italic" textLength="61.5" lengthAdjust="spacingAndGlyphs">Bay of Biscay</text>
<text x="516" y="267.5" font-size="11px" fill="#9a9a9a" font-weight="normal" textLength="71" lengthAdjust="spacing">FRANCE</text>
<text x="628.5" y="266.5" font-size="9.5px" fill="#a4a4a4" font-weight="normal" textLength="67" lengthAdjust="spacingAndGlyphs">SWITZERLAND</text>
<text x="782.7" y="191" font-size="9.5px" fill="#9a9a9a" font-weight="normal" textLength="45" lengthAdjust="spacingAndGlyphs">REPUBLIC</text>
<text x="755.3" y="253" font-size="9.5px" fill="#a4a4a4" font-weight="normal" textLength="41.5" lengthAdjust="spacing">AUSTRIA</text>
<text x="763.3" y="281" font-size="9.5px" fill="#a4a4a4" font-weight="normal" textLength="47" lengthAdjust="spacingAndGlyphs">SLOVENIA</text>
<text x="762.8" y="314.5" font-size="9.5px" fill="#a4a4a4" font-weight="normal" textLength="42" lengthAdjust="spacing">CROATIA</text>
<text x="854.6" y="212" font-size="9.5px" fill="#a4a4a4" font-weight="normal" textLength="46" lengthAdjust="spacingAndGlyphs">SLOVAKIA</text>
<text x="846.8" y="265" font-size="9.5px" fill="#a4a4a4" font-weight="normal" textLength="47" lengthAdjust="spacingAndGlyphs">HUNGARY</text>
<text x="956.8" y="288.5" font-size="9.5px" fill="#a4a4a4" font-weight="normal" textLength="47" lengthAdjust="spacing">ROMANIA</text>
<text x="814.2" y="329" font-size="9.5px" fill="#a4a4a4" font-weight="normal" textLength="60.5" lengthAdjust="spacing">BOSNIA AND</text>
<text x="810.7" y="339.7" font-size="9.5px" fill="#a4a4a4" font-weight="normal" textLength="68.5" lengthAdjust="spacingAndGlyphs">HERZEGOVINA</text>
<text x="894.7" y="349" font-size="9.5px" fill="#a4a4a4" font-weight="normal" textLength="32.5" lengthAdjust="spacingAndGlyphs">SERBIA</text>
<text x="971.7" y="374.7" font-size="9.5px" fill="#a4a4a4" font-weight="normal" textLength="48" lengthAdjust="spacingAndGlyphs">BULGARIA</text>
<text x="870" y="432.5" font-size="9.5px" fill="#a4a4a4" font-weight="normal" textLength="40" lengthAdjust="spacingAndGlyphs">ALBANIA</text>
<text x="721.2" y="372" font-size="9.5px" fill="#929292" font-weight="normal" textLength="32" lengthAdjust="spacing">ITALY</text>
<text x="779.5" y="380" font-size="9.5px" fill="#6c6f76" font-weight="bold" font-style="italic" textLength="56" lengthAdjust="spacing">Adriatic Sea</text>
<text x="567.8" y="367.5" font-size="9.5px" fill="#6c6f76" font-weight="bold" font-style="italic" textLength="31" lengthAdjust="spacing">Gulf of</text>
<text x="567.8" y="380" font-size="9.5px" fill="#6c6f76" font-weight="bold" font-style="italic" textLength="18.5" lengthAdjust="spacingAndGlyphs">Lion</text>
<text x="657.4" y="353" font-size="9.5px" fill="#6c6f76" font-weight="bold" font-style="italic" textLength="37" lengthAdjust="spacingAndGlyphs">Ligurian</text>
<text x="657.4" y="365.5" font-size="9.5px" fill="#6c6f76" font-weight="bold" font-style="italic" textLength="16.5" lengthAdjust="spacingAndGlyphs">Sea</text>
</g>
<rect x="979.5" y="191.5" width="28" height="25.5" fill="#323232" stroke="#444" stroke-width="0.6"/>
<g stroke="#c8c8c8" stroke-width="1.1"><path d="M991.5,198.5h9.5M991.5,202h9.5M991.5,205.5h9.5M991.5,209h9.5"/></g>
<g fill="#c8c8c8"><rect x="987.5" y="197.5" width="2" height="2"/><rect x="987.5" y="201" width="2" height="2"/><rect x="987.5" y="204.500" width="2" height="2"/><rect x="987.5" y="208" width="2" height="2"/></g>
<rect x="983" y="360" width="24" height="46.5" fill="#333334"/>
<path d="M983,383.2h24" stroke="#3e3e3e" stroke-width="1"/>
<path d="M990.5,371.3h10M995.5,366.3v10M990.5,393.7h10" stroke="#d0d0d0" stroke-width="1.4" fill="none"/>
<rect x="948" y="412.3" width="56.700" height="12" fill="#c9c9c9"/>
<text x="951" y="422.3" font-family="'Liberation Sans',sans-serif" font-size="10.5px" fill="#3c3c3c" textLength="50.5" lengthAdjust="spacingAndGlyphs">Esri, HERE</text>
</svg>
<div class="tab act" style="left:359px;top:429.5px;width:129px">Regioni - attuali positivi</div>
<div class="tab" style="left:492.5px;top:429.5px;width:113.5px">Province - casi totali</div>

<div class="panel" style="left:348px;top:463px;width:121px;height:79.5px"></div>
<div class="abs" style="left:463px;top:463px;width:6px;height:79.5px;background:#555"></div>
<div class="abs" style="left:463px;top:537px;width:6px;height:5.5px;background:#444"></div>
<div class="panel" style="left:478px;top:463px;width:365px;height:79.5px"></div>
<div class="abs" style="left:844px;top:463px;width:5px;height:79.5px;background:#555"></div>
<div class="panel" style="left:849px;top:463px;width:159px;height:79.5px"></div>
<div class="abs" style="left:1008px;top:463px;width:6px;height:79.5px;background:#555"></div>
<svg class="abs" style="left:348px;top:463px" width="121" height="80" viewBox="348 463 121 80">

<circle cx="374.6" cy="485.6" r="14.2" fill="none" stroke="#7d8f7a" stroke-width="6.4" stroke-dasharray="40 5 40 4.2" stroke-dashoffset="-2.5" transform="rotate(-90 374.6 485.6)"/>
<circle cx="374.6" cy="485.6" r="15.2" fill="none" stroke="#b9c4b6" stroke-width="2.2" stroke-dasharray="3 2.2" opacity="0.8"/>
<circle cx="374.6" cy="485.6" r="12.6" fill="none" stroke="#4f6a4c" stroke-width="1.6" stroke-dasharray="2.4 2.6" opacity="0.9"/>
<polygon points="385.40,485.60 383.86,487.23 384.75,489.29 382.74,490.30 382.87,492.54 380.64,492.80 380.00,494.95 377.81,494.43 376.48,496.24 374.60,495.00 372.72,496.24 371.39,494.43 369.20,494.95 368.56,492.80 366.33,492.54 366.46,490.30 364.45,489.29 365.34,487.23 363.80,485.60 365.34,483.97 364.45,481.91 366.46,480.90 366.33,478.66 368.56,478.40 369.20,476.25 371.39,476.77 372.72,474.96 374.60,476.20 376.48,474.96 377.81,476.77 380.00,476.25 380.64,478.40 382.87,478.66 382.74,480.90 384.75,481.91 383.86,483.97" fill="#b3a9a9"/>
<circle cx="374.6" cy="485.6" r="8.4" fill="#cdc2c2"/>
<polygon points="374.60,478.10 376.29,482.97 381.45,483.08 377.34,486.19 378.83,491.12 374.60,488.18 370.37,491.12 371.86,486.19 367.75,483.08 372.91,482.97" fill="#d9a9a9"/>
<polygon points="374.60,479.30 376.01,483.36 380.31,483.45 376.88,486.04 378.13,490.15 374.60,487.70 371.07,490.15 372.32,486.04 368.89,483.45 373.19,483.36" fill="#ffffff"/>
<path d="M358.20000000000005,497.8 q3.5,-2 6.5,1.2 q4.5,3.6 9.9,3.6 q5.4,0 9.9,-3.6 q3,-3.200 6.5,-1.200 l-1,5.500 q-3,-1 -5.200,1.200 q-1.500,1.800 -3.500,2.600 l1,2.800 q-4,2 -7.700,0.300 q-3.700,1.700 -7.700,-0.300 l1,-2.800 q-2,-0.800 -3.500,-2.600 q-2.200,-2.200 -5.200,-1.200 z" fill="#c9303a"/>
<g transform="translate(402,468.4) scale(1.0)" stroke-linejoin="round"><path d="M20.2,17.8 L24,26.4 L18.6,32.8 C14,34.5 10,38 6,39.3 C3,40.2 0.6,38.5 0.8,36.3 C1.2,33 6,30 10,27.5 C14,25 18,21.5 20.2,17.8 Z" fill="#1f9a4a" stroke="#e8e8e8" stroke-width="1.00"/><path d="M24,26.4 L34.2,26.2 C38,28 43,31 45.5,34.5 C47,37 46,39.500 43,39.2 C38,38.500 34,34.500 28,33.4 C24,32.7 21,32.6 18.6,32.8 Z" fill="#f4f4f4" stroke="#e8e8e8" stroke-width="1.00"/><path d="M23.2,0.4 C25.5,0.2 27,2 27.5,5 C28.3,10 29.5,15 31,19 C32,21.5 33,24 34.2,26.2 L24,26.4 L20.2,17.8 C19.5,14 19,10 19,6 C19,3 20.5,0.6 23.2,0.4 Z" fill="#e5384a" stroke="#e8e8e8" stroke-width="1.00"/></g>
<text x="358.6" y="519.6" font-family="'Liberation Serif',serif" font-size="9.6px" fill="#e8e8e8" textLength="89.700" lengthAdjust="spacingAndGlyphs">PROTEZIONE CIVILE</text>
<text x="358.6" y="528.8" font-family="'Liberation Sans',sans-serif" font-weight="bold" font-size="6.6px" fill="#b4b4b4" textLength="89.700" lengthAdjust="spacingAndGlyphs">Presidenza del Consiglio dei Ministri</text>
<text x="358.6" y="536.8" font-family="'Liberation Sans',sans-serif" font-weight="bold" font-size="6.6px" fill="#b4b4b4" textLength="89.700" lengthAdjust="spacingAndGlyphs">Dipartimento della Protezione Civile</text>

</svg>
<div class="info" style="left:483px;top:470.3px">
<div class="ln" style="transform:scaleX(0.887)"><b>Licenza:</b> <a>CC-BY-4.0</a> - <a>Visualizza licenza</a></div>
<div class="ln" style="transform:scaleX(0.912)"><b>Scheda metadati RNDT:</b> <a><b>dati</b></a> - <a><b>aree</b></a></div>
<div class="ln" style="transform:scaleX(0.915)"><b>Temi del dataset:</b> <a>Salute umana e sicurezza</a> (Inspire) - <b>ISO 19115:</b> Salute</div>
<div class="ln" style="transform:scaleX(0.944)"><i>Dati forniti dal Ministero della Salute</i></div>
<div class="ln" style="transform:scaleX(0.94)"><i>Elaborazione e gestione dati a cura del Dipartimento della Protezione Civile</i></div>
</div>
<div class="info" style="left:853px;top:470.3px;font-weight:bold">
<div class="ln" style="transform:scaleX(0.94);font-size:10.5px;color:#fff">Download schede e dati:</div>
<div class="ln" style="transform:scaleX(0.9)">- <a>Schede riepilogo PDF</a></div>
<div class="ln" style="transform:scaleX(0.9)">- <a>Dati CSV / JSON</a></div>
<div class="ln" style="transform:scaleX(0.9)">- <a>Shape aree</a></div>
<div class="ln" style="transform:scaleX(0.93)">- <a>Metadata</a></div>
</div>
<!-- right-edge slivers of the next column -->
<div class="abs" style="left:1022px;top:38px;width:2px;height:179px;background:#1e1e1e"></div>
<div class="abs" style="left:1022px;top:223px;width:2px;height:325px;background:#1e1e1e"></div>
</body></html>
